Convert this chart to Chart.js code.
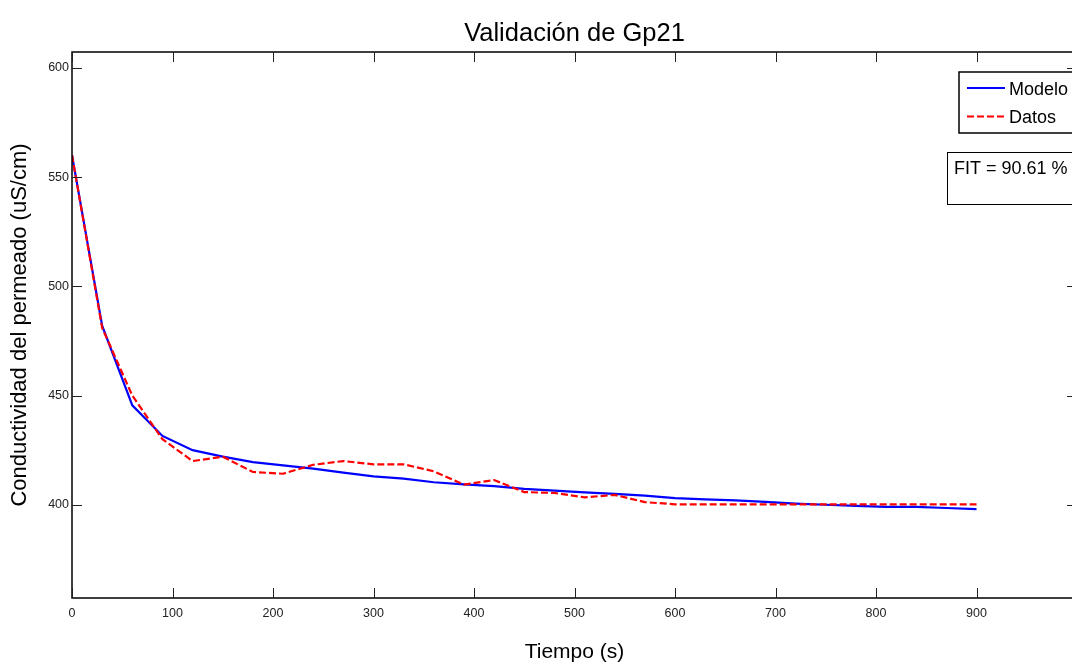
<!DOCTYPE html>
<html lang="es">
<head>
    <meta charset="UTF-8">
    <title>Validación de Gp21</title>
    <script src="https://cdn.jsdelivr.net/npm/chart.js"></script>
    <style>
        html, body { margin: 0; padding: 0; background: #fff; overflow: hidden; }
        #wrap { width: 1080px; height: 666px; }
    </style>
</head>
<body>
    <div id="wrap"><canvas id="chart" width="1080" height="666"></canvas></div>

    <script>
        // tiempo (s)
        const tiempo = [0, 30, 60, 90, 120, 150, 180, 210, 240, 270, 300, 330, 360, 390, 420, 450,
                        480, 510, 540, 570, 600, 630, 660, 690, 720, 750, 780, 810, 840, 870, 900];
        const modelo = [560, 482, 445.5, 431.5, 425, 422, 419.5, 418, 416.5, 414.7, 413, 412, 410.3, 409.3, 408.5, 407.3,
                        406.5, 405.7, 405, 404.2, 403, 402.5, 402, 401.3, 400.5, 400, 399.5, 399, 399, 398.5, 398];
        const datos  = [560, 481, 450, 430, 420, 422, 415, 414.2, 418.3, 420, 418.5, 418.5, 415.3, 409.2, 411.3, 405.8,
                        405.4, 403.4, 404.5, 401.2, 400.2, 400.2, 400.2, 400.2, 400.2, 400.2, 400.2, 400.2, 400.2, 400.2, 400.2];
        const xTicks = [0, 100, 200, 300, 400, 500, 600, 700, 800, 900];
        const yTicks = [400, 450, 500, 550, 600];
        const titulo = 'Validación de Gp21';
        const fitText = 'FIT = 90.61 %';

        const FONT = 'Liberation Sans, Arial, Helvetica, sans-serif';

        // titulo centrado sobre los ejes, marco, ticks hacia dentro, leyenda y cuadro FIT
        const matlabAxes = {
            id: 'matlabAxes',
            afterDraw(chart) {
                const { ctx, chartArea: a, scales } = chart;
                const tl = 10;
                ctx.save();

                ctx.fillStyle = '#000';
                ctx.font = '25.5px ' + FONT;
                ctx.textAlign = 'center';
                ctx.textBaseline = 'alphabetic';
                ctx.fillText(titulo, (a.left + a.right) / 2, 41);

                ctx.strokeStyle = '#000';
                ctx.lineWidth = 1.5;
                ctx.strokeRect(a.left, a.top, a.right - a.left, a.bottom - a.top);

                ctx.lineWidth = 1;
                ctx.strokeStyle = '#222';
                ctx.beginPath();
                xTicks.forEach(v => {
                    const x = Math.round(scales.x.getPixelForValue(v)) + 0.5;
                    ctx.moveTo(x, a.bottom); ctx.lineTo(x, a.bottom - tl);
                    ctx.moveTo(x, a.top); ctx.lineTo(x, a.top + tl);
                });
                yTicks.forEach(v => {
                    const y = Math.round(scales.y.getPixelForValue(v)) + 0.5;
                    ctx.moveTo(a.left, y); ctx.lineTo(a.left + tl, y);
                    ctx.moveTo(a.right, y); ctx.lineTo(a.right - tl, y);
                });
                ctx.stroke();

                // leyenda
                const lx = 959, ly = 72, lw = 130, lh = 61;
                ctx.fillStyle = '#fff';
                ctx.fillRect(lx, ly, lw, lh);
                ctx.strokeStyle = '#000';
                ctx.lineWidth = 1.5;
                ctx.strokeRect(lx, ly, lw, lh);
                ctx.font = '18px ' + FONT;
                ctx.textBaseline = 'middle';
                ctx.textAlign = 'left';
                chart.data.datasets.slice().sort((p, q) => p.legendIdx - q.legendIdx).forEach((ds, i) => {
                    const y = 88 + i * 28.5;
                    ctx.strokeStyle = ds.borderColor;
                    ctx.lineWidth = 2;
                    ctx.setLineDash(ds.borderDash || []);
                    ctx.beginPath();
                    ctx.moveTo(967, y); ctx.lineTo(1005, y);
                    ctx.stroke();
                    ctx.setLineDash([]);
                    ctx.fillStyle = '#000';
                    ctx.fillText(ds.label, 1009, y + 2);
                });

                // cuadro FIT
                ctx.fillStyle = '#fff';
                ctx.fillRect(947, 152, 140, 52);
                ctx.strokeStyle = '#000';
                ctx.lineWidth = 1;
                ctx.strokeRect(947.5, 152.5, 140, 52);
                ctx.fillStyle = '#000';
                ctx.fillText(fitText, 954, 169);
                ctx.restore();
            }
        };

        new Chart(document.getElementById('chart'), {
            type: 'line',
            data: {
                datasets: [{
                    label: 'Modelo',
                    legendIdx: 0,
                    order: 1,
                    data: tiempo.map((t, i) => ({ x: t, y: modelo[i] })),
                    borderColor: '#0000ff',
                    borderWidth: 2.2,
                    pointRadius: 0,
                    tension: 0
                }, {
                    label: 'Datos',
                    legendIdx: 1,
                    order: 0,
                    data: tiempo.map((t, i) => ({ x: t, y: datos[i] })),
                    borderColor: '#ff0000',
                    borderWidth: 2.2,
                    borderDash: [7, 3],
                    pointRadius: 0,
                    tension: 0
                }]
            },
            options: {
                responsive: false,
                animation: false,
                devicePixelRatio: 1,
                layout: { padding: { left: 0, right: 3, top: 52, bottom: 0 } },
                plugins: {
                    legend: { display: false },
                    tooltip: { enabled: false },
                    title: { display: false }
                },
                scales: {
                    x: {
                        type: 'linear',
                        min: 0,
                        max: 1000,
                        grid: { display: false, drawTicks: false },
                        border: { display: false },
                        afterBuildTicks: s => { s.ticks = xTicks.map(v => ({ value: v })); },
                        afterFit: s => { s.height = 68; },
                        ticks: {
                            color: '#222',
                            padding: 8,
                            maxRotation: 0,
                            font: { family: FONT, size: 12.5 }
                        },
                        title: {
                            display: true,
                            text: 'Tiempo (s)',
                            color: '#000',
                            font: { family: FONT, size: 21 },
                            padding: { top: 0, bottom: 1 }
                        }
                    },
                    y: {
                        min: 357.3,
                        max: 607.3,
                        grid: { display: false, drawTicks: false },
                        border: { display: false },
                        afterBuildTicks: s => { s.ticks = yTicks.map(v => ({ value: v })); },
                        afterFit: s => { s.width = 72; },
                        ticks: {
                            color: '#222',
                            padding: 3,
                            font: { family: FONT, size: 12.5 }
                        },
                        title: {
                            display: true,
                            text: 'Conductividad del permeado (uS/cm)',
                            color: '#000',
                            font: { family: FONT, size: 22 },
                            padding: { top: 7, bottom: 0 }
                        }
                    }
                }
            },
            plugins: [matlabAxes]
        });
    </script>
</body>
</html>
